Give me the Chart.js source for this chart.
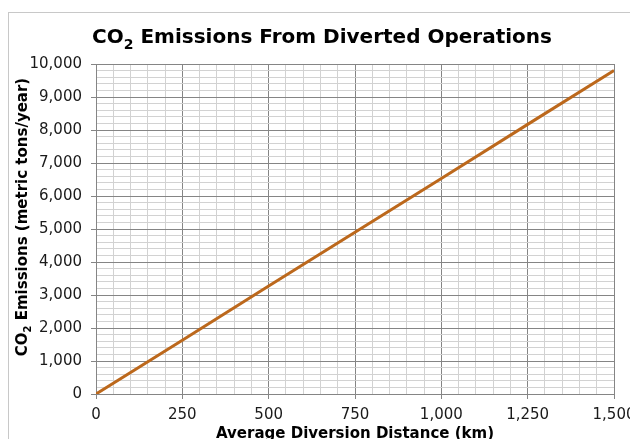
<!DOCTYPE html>
<html>
<head>
<meta charset="utf-8">
<script src="https://cdn.jsdelivr.net/npm/chart.js@4"></script>
<style>
  html, body { margin: 0; padding: 0; overflow: hidden; background: #fff; }
  #wrap { width: 650px; height: 450px; }
</style>
</head>
<body>
<div id="wrap"><canvas id="co2Chart"></canvas></div>
<script>
// distance (km) vs CO2 emissions (metric tons/year)
const distances = [0, 250, 500, 750, 1000, 1250, 1500];
const emissions = [0, 1630, 3270, 4900, 6530, 8170, 9800];
const xTickLabels = ["0", "250", "500", "750", "1,000", "1,250", "1,500"];
const yTickLabels = ["0", "1,000", "2,000", "3,000", "4,000", "5,000", "6,000", "7,000", "8,000", "9,000", "10,000"];
const chartTitle = ["CO", "2", " Emissions From Diverted Operations"];
const yTitle = ["CO", "2", " Emissions (metric tons/year)"];
const xTitle = "Average Diversion Distance (km)";

const MAJOR = "#858585";
const MINOR = "#d2d2d2";
const FONT = "DejaVu Sans";

// text with a subscript "2" in the middle, centred on (cx, cy)
function drawSubText(ctx, parts, size, cx, cy, angle) {
  const big = "bold " + size + "px '" + FONT + "'";
  const small = "bold " + Math.round(size * 0.68) + "px '" + FONT + "'";
  ctx.save();
  ctx.translate(cx, cy);
  ctx.rotate(angle);
  ctx.font = big;
  const w0 = ctx.measureText(parts[0]).width;
  const w2 = ctx.measureText(parts[2]).width;
  ctx.font = small;
  const w1 = ctx.measureText(parts[1]).width;
  let x = -(w0 + w1 + w2) / 2;
  ctx.fillStyle = "#000";
  ctx.textBaseline = "middle";
  ctx.textAlign = "left";
  ctx.font = big;
  ctx.fillText(parts[0], x, 0);
  x += w0;
  ctx.font = small;
  ctx.fillText(parts[1], x, size * 0.38);
  x += w1;
  ctx.font = big;
  ctx.fillText(parts[2], x, 0);
  ctx.restore();
}

const frame = {
  id: "frame",
  beforeDraw(chart) {
    const ctx = chart.ctx;
    ctx.save();
    ctx.fillStyle = "#fff";
    ctx.fillRect(0, 0, chart.width, chart.height);
    ctx.strokeStyle = "#c8c8c8";
    ctx.lineWidth = 1;
    ctx.strokeRect(8.5, 12.5, 700, 700);
    ctx.restore();
  },
  afterDraw(chart) {
    const ctx = chart.ctx;
    const area = chart.chartArea;
    drawSubText(ctx, chartTitle, 20, 322, 38, 0);
    drawSubText(ctx, yTitle, 15, 23, (area.top + area.bottom) / 2 - 12, -Math.PI / 2);
  }
};

function fixBox(size) {
  return function (scale) {
    if (scale.isHorizontal()) scale.height = size; else scale.width = size;
    scale.paddingLeft = 0;
    scale.paddingRight = 0;
    scale.paddingTop = 0;
    scale.paddingBottom = 0;
  };
}

const ctx = document.getElementById("co2Chart").getContext("2d");
new Chart(ctx, {
  type: "line",
  data: {
    datasets: [{
      data: distances.map((d, i) => ({ x: d, y: emissions[i] })),
      borderColor: "#bc681c",
      borderWidth: 3,
      pointRadius: 0,
      fill: false,
      tension: 0
    }]
  },
  plugins: [frame],
  options: {
    responsive: true,
    maintainAspectRatio: false,
    animation: false,
    layout: { padding: { left: 0, right: 36, top: 64, bottom: 0 } },
    plugins: {
      legend: { display: false },
      tooltip: { enabled: false },
      title: { display: false }
    },
    scales: {
      x: {
        type: "linear",
        min: 0,
        max: 1500,
        afterFit: fixBox(56),
        border: { color: MAJOR },
        grid: {
          color: c => (c.tick.value % 250 === 0 ? MAJOR : MINOR),
          tickColor: c => (c.tick.value % 250 === 0 ? MAJOR : "rgba(0,0,0,0)"),
          tickLength: 5
        },
        ticks: {
          stepSize: 50,
          autoSkip: false,
          maxRotation: 0,
          padding: 7,
          color: "#1a1a1a",
          font: { family: FONT, size: 15 },
          callback: v => (v % 250 === 0 ? xTickLabels[v / 250] : "")
        },
        title: {
          display: true,
          text: xTitle,
          color: "#000",
          font: { family: FONT, size: 15, weight: "bold" },
          padding: { top: 0, bottom: 7 }
        }
      },
      y: {
        type: "linear",
        min: 0,
        max: 10000,
        afterFit: fixBox(96),
        border: { color: MAJOR },
        grid: {
          color: c => (c.tick.value % 1000 === 0 ? MAJOR : MINOR),
          tickColor: c => (c.tick.value % 1000 === 0 ? MAJOR : "rgba(0,0,0,0)"),
          tickLength: 5
        },
        ticks: {
          stepSize: 200,
          autoSkip: false,
          padding: 9,
          color: "#1a1a1a",
          font: { family: FONT, size: 15 },
          callback: v => (v % 1000 === 0 ? yTickLabels[v / 1000] : "")
        }
      }
    }
  }
});
</script>
</body>
</html>
